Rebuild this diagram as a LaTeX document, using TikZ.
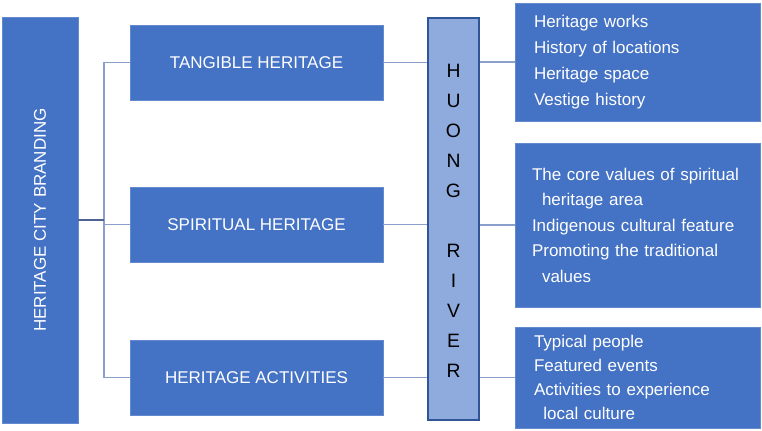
\documentclass[tikz,border=0pt]{standalone}
\usepackage{fontspec}
\setmainfont{Liberation Sans}
\newdimen\pxu \pxu=0.75pt
\definecolor{boxblue}{HTML}{4472C4}
\definecolor{boxedge}{HTML}{6489CE}
\definecolor{riverfill}{HTML}{8FAADC}
\definecolor{riveredge}{HTML}{2F5597}
\definecolor{linkc}{HTML}{8A9FCB}
\definecolor{stubc}{HTML}{4F6290}
\tikzset{
  bluebox/.style={draw=boxedge, line width=0.5pt, fill=boxblue, text=white, inner sep=0pt, font=\fontsize{12.75}{15}\selectfont},
  listbox/.style={bluebox, align=left, inner xsep=19\pxu, text width=207\pxu, minimum width=245\pxu},
  riverbox/.style={draw=riveredge, line width=1.5pt, fill=riverfill, inner sep=0pt, minimum width=51\pxu, minimum height=402\pxu},
  link/.style={draw=linkc, line width=1.1pt},
  stub/.style={draw=stubc, line width=1.3pt}
}
\begin{document}
\begin{tikzpicture}[x=0.75pt,y=-0.75pt]
\useasboundingbox (0,0) rectangle (762,430);
% left box
\node[bluebox, minimum width=76\pxu, minimum height=406\pxu] (left) at (40,220) {};
\node[rotate=90, text=white, inner sep=0pt, font=\fontsize{12.75}{15}\selectfont] (leftlabel) at (left.center) {HERITAGE CITY BRANDING};
% middle boxes
\node[bluebox, minimum width=253\pxu, minimum height=75\pxu] (tang) at (256.5,62.5) {TANGIBLE HERITAGE};
\node[bluebox, minimum width=253\pxu, minimum height=75\pxu] (spir) at (256.5,224.5) {SPIRITUAL HERITAGE};
\node[bluebox, minimum width=253\pxu, minimum height=75\pxu] (act) at (256.5,377.5) {HERITAGE ACTIVITIES};
% river
\node[riverbox] (river) at (453.5,219) {};
\node[align=center, inner sep=0pt, font=\fontsize{14.5}{22.5}\selectfont] (riverlabel) at (453.5,221) {H\\U\\O\\N\\G\\\strut\\R\\I\\V\\E\\R};
% right boxes
\node[listbox, minimum height=118\pxu, font=\fontsize{12.75}{19.5}\selectfont] (r1) at (637.5,62) {Heritage works\\History of locations\\Heritage space\\Vestige history};
\node[listbox, minimum height=164\pxu, font=\fontsize{12.75}{19.1}\selectfont, inner xsep=17\pxu, text width=211\pxu] (r2) at (637.5,225) {The core values of spiritual\\\hspace*{7.5pt}heritage area\\Indigenous cultural feature\\Promoting the traditional\\\hspace*{7.5pt}values};
\node[listbox, minimum height=101\pxu, font=\fontsize{12.75}{18}\selectfont] (r3) at (637.5,377.5) {Typical people\\Featured events\\Activities to experience\\\hspace*{7pt}local culture};
% connectors
\coordinate (tx) at (104,0);
\draw[link] (tang.west) -- (tang.west -| tx) -- (act.west -| tx) -- (act.west);
\draw[link] (spir.west) -- (spir.west -| tx);
\draw[stub] (left.east) -- (left.east -| tx);
\draw[link] (tang.east) -- (tang.east -| river.west);
\draw[link] (spir.east) -- (spir.east -| river.west);
\draw[link] (act.east) -- (act.east -| river.west);
\draw[link] (r1.west -| river.east) -- (r1.west);
\draw[link] (r2.west -| river.east) -- (r2.west);
\draw[link] (r3.west -| river.east) -- (r3.west);
\end{tikzpicture}
\end{document}
